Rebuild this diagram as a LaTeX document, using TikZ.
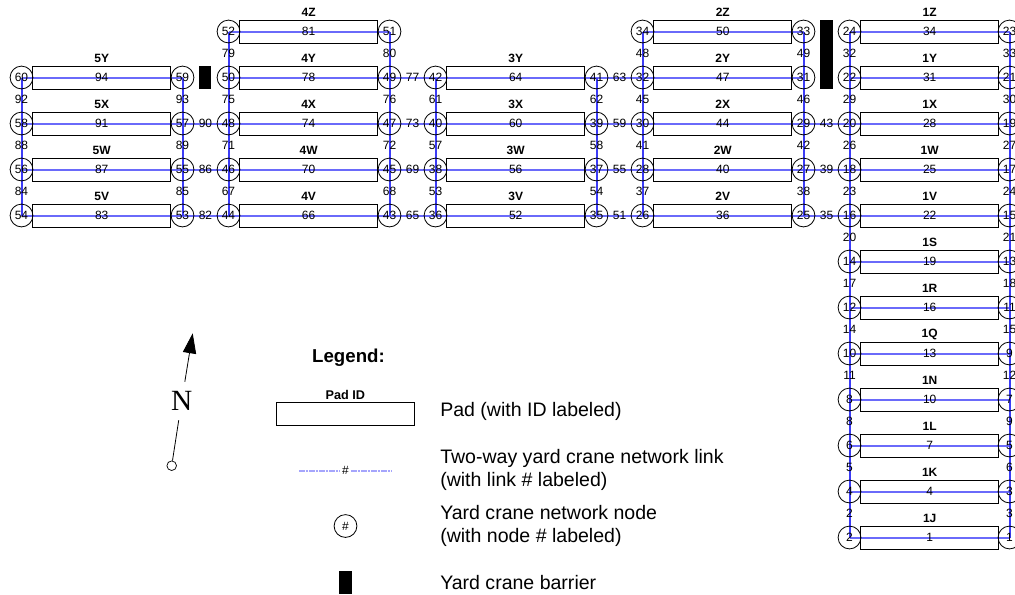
\documentclass[tikz,border=0pt]{standalone}
\usepackage{fontspec}
\setmainfont{Liberation Sans}
\newfontfamily\compassfont{Liberation Serif}
\definecolor{YARDblue}{HTML}{3C3CF5}
\definecolor{YARDlink}{HTML}{6A6AFA}
\usetikzlibrary{arrows.meta, backgrounds}
\tikzset{
   padbox/.style={draw, line width=0.65pt, minimum width=103.5pt, minimum height=17.25pt, inner sep=0pt, font=\fontsize{9}{10}\selectfont},
   padname/.style={inner sep=0pt, font=\bfseries\fontsize{9}{10}\selectfont},
   netnode/.style={draw, circle, line width=0.6pt, minimum size=17.1pt, inner sep=0pt, font=\fontsize{9}{10}\selectfont},
   linknum/.style={inner sep=0pt, yshift=0.6pt, font=\fontsize{9}{10}\selectfont},
   padlink/.style={YARDlink, line width=1.5pt},
   baylink/.style={YARDblue, line width=1.5pt},
   legendlink/.style={YARDlink!60, line width=1.5pt, dash pattern=on 2pt off 0.5pt},
   legendtext/.style={anchor=west, align=left, inner sep=0pt, font=\fontsize{14.65}{17.6}\selectfont},
   barrier/.style={fill=black, inner sep=0pt}
}
\begin{document}
\begin{tikzpicture}[x=0.75pt, y=-0.75pt]
   \useasboundingbox (0,0) rectangle (1015,594);
   % Pads: number/name/x/y
   \foreach \padnum/\padid/\x/\y in {
      1/1J/929.7/537.5, 4/1K/929.7/491.5, 7/1L/929.7/445.5, 10/1N/929.7/399.5,
      13/1Q/929.7/353.5, 16/1R/929.7/307.5, 19/1S/929.7/261.5, 22/1V/929.7/215.5,
      25/1W/929.7/169.5, 28/1X/929.7/123.5, 31/1Y/929.7/77.5, 34/1Z/929.7/31.5,
      36/2V/722.8/215.5, 40/2W/722.8/169.5, 44/2X/722.8/123.5, 47/2Y/722.8/77.5, 50/2Z/722.8/31.5,
      52/3V/515.7/215.5, 56/3W/515.7/169.5, 60/3X/515.7/123.5, 64/3Y/515.7/77.5,
      66/4V/308.6/215.5, 70/4W/308.6/169.5, 74/4X/308.6/123.5, 78/4Y/308.6/77.5, 81/4Z/308.6/31.5,
      83/5V/101.7/215.5, 87/5W/101.7/169.5, 91/5X/101.7/123.5, 94/5Y/101.7/77.5}{
      \node[padbox] (p\padnum) at (\x,\y) {\padnum};
      \node[padname] (id\padnum) at (\x,\y-18.8) {\padid};
   }
   % Network nodes: number/x/y
   \foreach \num/\x/\y in {
      2/849.5/537.5, 4/849.5/491.5, 6/849.5/445.5, 8/849.5/399.5, 10/849.5/353.5, 12/849.5/307.5,
      14/849.5/261.5, 16/849.5/215.5, 18/849.5/169.5, 20/849.5/123.5, 22/849.5/77.5, 24/849.5/31.5,
      1/1009.5/537.5, 3/1009.5/491.5, 5/1009.5/445.5, 7/1009.5/399.5, 9/1009.5/353.5, 11/1009.5/307.5,
      13/1009.5/261.5, 15/1009.5/215.5, 17/1009.5/169.5, 19/1009.5/123.5, 21/1009.5/77.5, 23/1009.5/31.5,
      25/803.5/215.5, 27/803.5/169.5, 29/803.5/123.5, 31/803.5/77.5, 33/803.5/31.5,
      26/642.5/215.5, 28/642.5/169.5, 30/642.5/123.5, 32/642.5/77.5, 34/642.5/31.5,
      35/596.5/215.5, 37/596.5/169.5, 39/596.5/123.5, 41/596.5/77.5,
      36/435.5/215.5, 38/435.5/169.5, 40/435.5/123.5, 42/435.5/77.5,
      43/389.5/215.5, 45/389.5/169.5, 47/389.5/123.5, 49/389.5/77.5, 51/389.5/31.5,
      44/228.5/215.5, 46/228.5/169.5, 48/228.5/123.5, 50/228.5/77.5, 52/228.5/31.5,
      53/182.5/215.5, 55/182.5/169.5, 57/182.5/123.5, 59/182.5/77.5,
      54/21.5/215.5, 56/21.5/169.5, 58/21.5/123.5, 60/21.5/77.5}{
      \node[netnode] (n\num) at (\x,\y) {\num};
   }
   % Links along the pads: the pad shows the number
   \begin{scope}[on background layer]
      \foreach \from/\to in {
         2/1, 4/3, 6/5, 8/7, 10/9, 12/11, 14/13, 16/15, 18/17, 20/19, 22/21, 24/23,
         26/25, 28/27, 30/29, 32/31, 34/33, 36/35, 38/37, 40/39, 42/41,
         44/43, 46/45, 48/47, 50/49, 52/51, 54/53, 56/55, 58/57, 60/59}{
         \draw[padlink] (n\from.center) -- (n\to.center);
      }
   \end{scope}
   % Links between the blocks
   \foreach \lnk/\from/\to in {
      35/25/16, 39/27/18, 43/29/20, 51/35/26, 55/37/28, 59/39/30, 63/41/32,
      65/43/36, 69/45/38, 73/47/40, 77/49/42, 82/53/44, 86/55/46, 90/57/48}{
      \path (n\from) -- node[linknum, yshift=-0.6pt] (l\lnk) {\lnk} (n\to);
      \begin{scope}[on background layer]
         \draw[padlink] (n\from.center) -- (n\to.center);
      \end{scope}
   }
   % Links along the aisles
   \foreach \lnk/\from/\to in {
      2/2/4, 3/1/3, 5/4/6, 6/3/5, 8/6/8, 9/5/7, 11/8/10, 12/7/9, 14/10/12, 15/9/11, 17/12/14,
      18/11/13, 20/14/16, 21/13/15, 23/16/18, 24/15/17, 26/18/20, 27/17/19, 29/20/22, 30/19/21,
      32/22/24, 33/21/23, 37/26/28, 38/25/27, 41/28/30, 42/27/29, 45/30/32, 46/29/31, 48/32/34,
      49/31/33, 53/36/38, 54/35/37, 57/38/40, 58/37/39, 61/40/42, 62/39/41, 67/44/46, 68/43/45,
      71/46/48, 72/45/47, 75/48/50, 76/47/49, 79/50/52, 80/49/51, 84/54/56, 85/53/55, 88/56/58,
      89/55/57, 92/58/60, 93/57/59}{
      \path (n\from) -- node[linknum] (l\lnk) {\lnk} (n\to);
      \begin{scope}[on background layer]
         \draw[baylink] (n\from.center) -- (n\to.center);
      \end{scope}
   }
   % Barriers
   \node[barrier, minimum width=9.3pt, minimum height=17.6pt] (barrierA) at (205.2,77.5) {};
   \node[barrier, minimum width=9.3pt, minimum height=52.2pt] (barrierB) at (826.5,54.5) {};
   % North arrow
   \node[draw, circle, fill=white, line width=0.55pt, minimum size=7.2pt, inner sep=0pt] (northbase) at (171.7,465.7) {};
   \node[minimum height=28.5pt, inner sep=0pt, font=\compassfont\fontsize{22}{24}\selectfont] (northlabel) at (181.7,401) {N};
   \coordinate (northtip) at (192.7,333.3);
   \draw[line width=0.6pt] (northbase) -- (northlabel);
   \draw[line width=0.6pt, -{Triangle[length=15pt, width=10pt]}] (northlabel) -- (northtip);
   % Legend
   \node[inner sep=0pt, font=\bfseries\fontsize{14}{16}\selectfont] (legendhead) at (348.5,357.7) {Legend:};
   \node[padbox] (legendpad) at (345.3,413.6) {};
   \node[inner sep=0pt, font=\bfseries\fontsize{9.5}{11}\selectfont] (legendid) at (345.3,395) {Pad ID};
   \coordinate (legendA) at (299,470.5);
   \coordinate (legendB) at (391,470.5);
   \node[inner sep=1.4pt, font=\fontsize{9}{10}\selectfont] (legendnum) at (345.5,470.5) {\#};
   \draw[legendlink] (legendA) -- (legendnum);
   \draw[legendlink] (legendnum) -- (legendB);
   \node[netnode] (legendnode) at (345.5,526) {\#};
   \node[barrier, minimum width=9.6pt, minimum height=17.2pt] (legendbar) at (345.5,582.8) {};
   \node[legendtext] (textpad) at (440,411) {Pad (with ID labeled)};
   \node[legendtext] (textlink) at (440,469.8) {Two-way yard crane network link\\(with link \# labeled)};
   \node[legendtext] (textnode) at (440,526) {Yard crane network node\\(with node \# labeled)};
   \node[legendtext] (textbar) at (440,583) {Yard crane barrier};
\end{tikzpicture}
\end{document}
